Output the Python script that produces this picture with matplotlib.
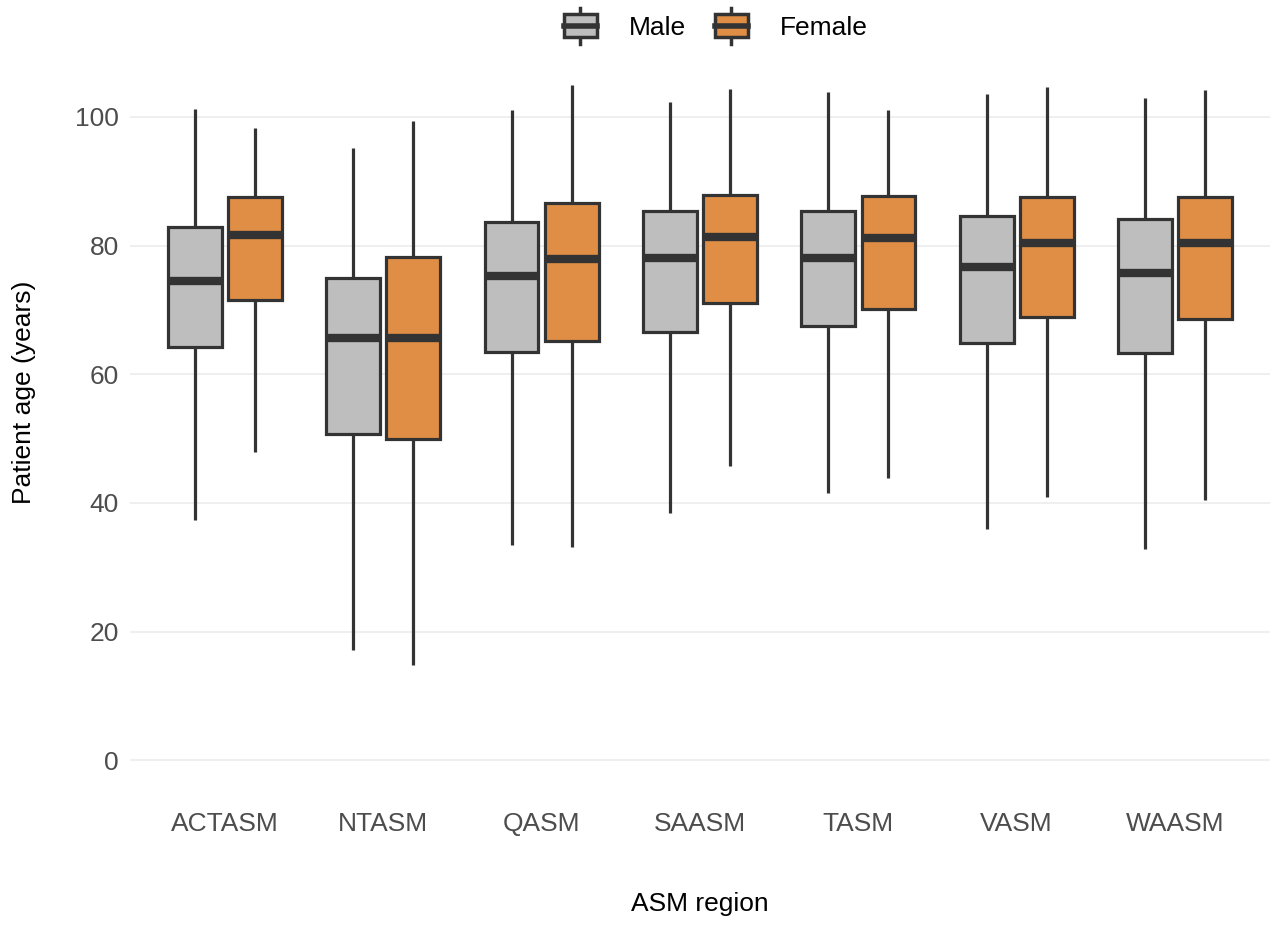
import matplotlib
matplotlib.use("Agg")
import matplotlib.pyplot as plt
import matplotlib.patches as mpatches
import matplotlib.lines as mlines
from matplotlib.legend_handler import HandlerBase

plt.rcParams['font.family'] = ['Liberation Sans', 'DejaVu Sans']

# summary statistics per region (years)
regions = ['ACTASM', 'NTASM', 'QASM', 'SAASM', 'TASM', 'VASM', 'WAASM']

male_low = [37.3, 17.2, 33.4, 38.4, 41.5, 35.9, 32.8]
male_q1 = [64.3, 50.7, 63.4, 66.5, 67.5, 64.8, 63.3]
male_med = [74.5, 65.6, 75.3, 78.0, 78.0, 76.6, 75.8]
male_q3 = [82.9, 74.9, 83.6, 85.3, 85.3, 84.6, 84.1]
male_high = [101.3, 95.2, 101.1, 102.3, 103.8, 103.6, 102.9]

female_low = [47.9, 14.8, 33.1, 45.7, 43.8, 40.9, 40.4]
female_q1 = [71.5, 50.0, 65.1, 71.1, 70.1, 68.9, 68.6]
female_med = [81.6, 65.7, 77.9, 81.4, 81.1, 80.4, 80.4]
female_q3 = [87.6, 78.3, 86.6, 87.9, 87.7, 87.6, 87.5]
female_high = [98.2, 99.3, 105.0, 104.4, 101.1, 104.6, 104.2]

sexes = ['Male', 'Female']
colors = {'Male': '#BEBEBE', 'Female': '#E08E45'}
edge = '#333333'
offsets = {'Male': -0.19, 'Female': 0.19}


def make_stats(low, q1, med, q3, high):
    return [dict(whislo=a, q1=b, med=c, q3=d, whishi=e, fliers=[])
            for a, b, c, d, e in zip(low, q1, med, q3, high)]


stats = {
    'Male': make_stats(male_low, male_q1, male_med, male_q3, male_high),
    'Female': make_stats(female_low, female_q1, female_med, female_q3, female_high),
}

fig = plt.figure(figsize=(12.79, 9.25), dpi=100)
ax = fig.add_axes([0.1016, 0.1416, 0.8914, 0.8033])

xpos = list(range(1, len(regions) + 1))
for sex in sexes:
    ax.bxp(stats[sex], positions=[x + offsets[sex] for x in xpos], widths=0.34,
           showcaps=False, showfliers=False, patch_artist=True,
           boxprops=dict(facecolor=colors[sex], edgecolor=edge, linewidth=2.3),
           whiskerprops=dict(color=edge, linewidth=2.3, solid_capstyle='butt'),
           medianprops=dict(color=edge, linewidth=6, solid_capstyle='butt'),
           zorder=3)

ax.set_xlim(0.4, 7.6)
ax.set_ylim(-5.25, 110.25)
ax.set_xticks(xpos)
ax.set_xticklabels(regions)
ax.set_yticks([0, 20, 40, 60, 80, 100])

ax.grid(axis='y', color='#EBEBEB', linewidth=1.1, zorder=0)
ax.grid(axis='x', visible=False)
for s in ax.spines.values():
    s.set_visible(False)
ax.tick_params(axis='both', length=0, labelsize=19, labelcolor='#4D4D4D')
ax.tick_params(axis='x', pad=13)
ax.tick_params(axis='y', pad=8)

ax.set_xlabel('ASM region', fontsize=19, labelpad=40, color='black')
ax.set_ylabel('Patient age (years)', fontsize=19, color='black')
ax.yaxis.set_label_coords(-0.0825, 0.54)


class BoxKey(HandlerBase):
    # small boxplot glyph for the legend keys
    def create_artists(self, legend, orig_handle, xdescent, ydescent,
                       width, height, fontsize, trans):
        fc = orig_handle.get_facecolor()
        cx = width / 2 - xdescent
        bh = height * 0.95
        by = height / 2 - bh / 2 - ydescent
        rect = mpatches.Rectangle((-xdescent + 1, by), width - 2, bh,
                                  facecolor=fc, edgecolor=edge, linewidth=2.5,
                                  transform=trans)
        mid = by + bh / 2
        med = mlines.Line2D([-xdescent + 1, width - xdescent - 1], [mid, mid],
                            color=edge, linewidth=4, transform=trans)
        top = mlines.Line2D([cx, cx], [by + bh, by + bh + height * 0.28],
                            color=edge, linewidth=2.5, transform=trans)
        bot = mlines.Line2D([cx, cx], [by, by - height * 0.28],
                            color=edge, linewidth=2.5, transform=trans)
        return [top, bot, rect, med]


handles = [mpatches.Patch(facecolor=colors[s], edgecolor=edge) for s in sexes]
fig.legend(handles, sexes, loc='center', bbox_to_anchor=(0.559, 0.971), ncol=2,
           frameon=False, fontsize=19, handler_map={mpatches.Patch: BoxKey()},
           handlelength=1.35, handleheight=1.0, handletextpad=1.15,
           columnspacing=1.05)

fig.savefig('out.png', dpi=100, facecolor='white')
